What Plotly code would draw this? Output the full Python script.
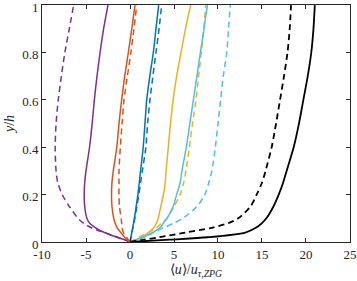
import plotly.graph_objects as go

y_grid = [0, 0.01, 0.02, 0.04, 0.06, 0.08, 0.1, 0.15, 0.2, 0.25, 0.3, 0.4, 0.5, 0.6, 0.7, 0.8, 0.9, 1.0]

purple_solid = [0, -0.6, -1.5, -2.9, -3.9, -4.6, -4.9, -5.15, -5.2, -5.15, -5.0, -4.6, -4.3, -4.05, -3.75, -3.4, -3.0, -2.5]
purple_dash = [0, -0.7, -1.4, -2.9, -4.4, -5.3, -5.9, -6.9, -7.7, -8.2, -8.4, -8.5, -8.4, -8.15, -7.8, -7.4, -6.9, -6.4]
orange_solid = [0, -0.3, -0.6, -1.05, -1.45, -1.7, -1.85, -2.05, -2.1, -2.05, -1.9, -1.5, -1.25, -0.95, -0.6, -0.19, 0.2, 0.57]
orange_dash = [0, -0.2, -0.4, -0.75, -0.9, -0.95, -1.0, -1.2, -1.25, -1.25, -1.25, -1.1, -0.9, -0.68, -0.3, 0.1, 0.45, 0.76]
blue_solid = [0, 0.05, 0.1, 0.2, 0.3, 0.4, 0.5, 0.7, 0.9, 1.05, 1.2, 1.5, 1.7, 1.9, 2.25, 2.65, 2.95, 3.26]
blue_dash = [0, 0.06, 0.12, 0.23, 0.34, 0.45, 0.55, 0.78, 1.0, 1.2, 1.4, 1.8, 2.0, 2.27, 2.6, 2.95, 3.3, 3.6]
yellow_solid = [0, 0.8, 1.3, 2.1, 2.7, 3.0, 3.2, 3.5, 3.8, 4.0, 4.1, 4.35, 4.6, 4.9, 5.3, 5.8, 6.3, 6.9]
yellow_dash = [0, 0.5, 1.0, 2.1, 3.0, 3.6, 4.2, 5.0, 5.7, 6.1, 6.35, 6.75, 7.1, 7.5, 7.8, 8.1, 8.4, 8.6]
cyan_solid = [0, 0.7, 1.4, 2.6, 3.4, 3.8, 4.2, 4.9, 5.3, 5.7, 5.9, 6.4, 6.8, 7.2, 7.6, 8.0, 8.4, 8.8]
cyan_dash = [0, 0.8, 1.6, 2.7, 3.8, 5.0, 6.0, 7.6, 8.5, 8.95, 9.3, 9.7, 10.0, 10.3, 10.6, 11.0, 11.2, 11.4]
black_dash = [0, 1.6, 3.3, 6.3, 9.3, 11.2, 12.3, 13.7, 14.4, 15.0, 15.4, 16.1, 16.6, 17.05, 17.5, 17.9, 18.15, 18.3]
black_solid = [0, 4.5, 8.8, 13.1, 14.3, 15.0, 15.5, 16.3, 16.9, 17.4, 17.8, 18.6, 19.2, 19.7, 20.2, 20.6, 20.85, 21.0]

x_ticks = [-10, -5, 0, 5, 10, 15, 20, 25]
y_ticks = [0, 0.2, 0.4, 0.6, 0.8, 1]
y_tick_text = ["0", "0.2", "0.4", "0.6", "0.8", "1"]

series = [
    (purple_solid, "#7E2F8E", "solid", 1.5),
    (purple_dash, "#7E2F8E", "6px,4px", 1.5),
    (orange_solid, "#D95319", "solid", 1.5),
    (orange_dash, "#D95319", "6px,4px", 1.5),
    (blue_solid, "#0072BD", "solid", 1.5),
    (blue_dash, "#0072BD", "6px,4px", 1.5),
    (yellow_solid, "#EDB120", "solid", 1.5),
    (yellow_dash, "#EDB120", "6px,4px", 1.5),
    (cyan_solid, "#4DBEEE", "solid", 1.5),
    (cyan_dash, "#4DBEEE", "6px,4px", 1.5),
    (black_dash, "#000000", "6px,4px", 1.8),
    (black_solid, "#000000", "solid", 1.8),
]

FONT = "Liberation Serif"

fig = go.Figure()
for xs, col, dash, w in series:
    fig.add_trace(go.Scatter(x=xs, y=y_grid, mode="lines",
                             line=dict(color=col, dash=dash, width=w, shape="spline", smoothing=0.8),
                             showlegend=False, hoverinfo="skip"))

axis_common = dict(showline=True, linecolor="#262626", linewidth=1, mirror="ticks",
                   ticks="inside", ticklen=4, tickcolor="#262626", tickwidth=1,
                   showgrid=False, zeroline=False, ticklabeloverflow="allow",
                   tickfont=dict(family=FONT, size=13, color="#262626"))

fig.update_xaxes(range=[-10, 25.001], tickvals=x_ticks, ticktext=[str(v) for v in x_ticks],
                 title=dict(text="⟨<i>u</i>⟩/<i>u</i><sub><i>τ,ZPG</i></sub>",
                            font=dict(family=FONT, size=14, color="#262626"),
                            standoff=2),
                 **axis_common)
fig.update_yaxes(range=[0, 1.0005], tickvals=y_ticks, ticktext=y_tick_text,
                 ticklabelshift=2,
                 title=dict(text="<i>y</i>/<i>h</i>",
                            font=dict(family=FONT, size=14, color="#262626"),
                            standoff=4),
                 **axis_common)

fig.update_layout(width=357, height=281, margin=dict(l=42, r=7, t=5, b=39, autoexpand=False),
                  font=dict(family=FONT),
                  plot_bgcolor="white", paper_bgcolor="white")

fig.write_html("out.html", config={"displayModeBar": False},
               post_script="document.body.style.margin='0';document.body.style.overflow='hidden';")
